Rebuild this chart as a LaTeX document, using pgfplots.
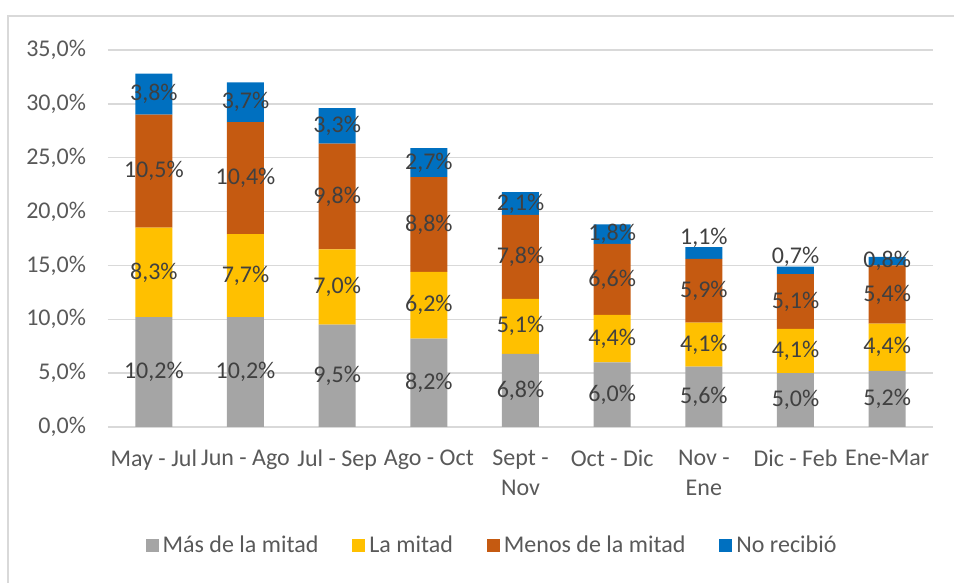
\documentclass[border=0pt]{standalone}
\usepackage{fontspec}
\setmainfont{Carlito}
\usepackage{pgfplots}
\usepackage{pgfplotstable}
\pgfplotsset{compat=1.18}
\definecolor{cgray}{HTML}{A5A5A5}
\definecolor{cyellow}{HTML}{FFC000}
\definecolor{corange}{HTML}{C55A11}
\definecolor{cblue}{HTML}{0070C0}
\definecolor{gridc}{HTML}{D9D9D9}
\definecolor{tickc}{HTML}{595959}
\definecolor{lblc}{HTML}{404040}

\pgfplotstableread{
x y dy
0 10.2 0
1 10.2 0
2 9.5 0
3 8.2 0
4 6.8 0
5 6.0 0
6 5.6 0
7 5.0 0
8 5.2 0
}\graytab
\pgfplotstableread{
x y dy
0 8.3 0
1 7.7 0
2 7.0 0
3 6.2 0
4 5.1 0
5 4.4 0
6 4.1 0
7 4.1 0
8 4.4 0
}\yellowtab
\pgfplotstableread{
x y dy
0 10.5 0
1 10.4 0
2 9.8 0
3 8.8 0
4 7.8 0
5 6.6 0
6 5.9 0
7 5.1 0
8 5.4 0
}\orangetab
\pgfplotstableread{
x y dy
0 3.8 0
1 3.7 0
2 3.3 0
3 2.7 0
4 2.1 0
5 1.8 0
6 1.1 7.5
7 0.7 6.5
8 0.8 0
}\bluetab

\newcommand{\cfont}{\fontsize{12pt}{15pt}\selectfont}

\begin{document}
\begin{tikzpicture}
\useasboundingbox (0,0) rectangle (477pt,291.5pt);
\draw[gridc, line width=0.6pt] (4pt,0) -- (4pt,283.5pt) -- (477pt,283.5pt);
\begin{axis}[
  at={(54pt,78pt)}, anchor=south west,
  scale only axis, width=412.5pt, height=188.5pt,
  ybar stacked, bar width=18.5pt,
  xmin=-0.5, xmax=8.5, ymin=0, ymax=35,
  ytick={0,5,...,35},
  xtick={0,...,8},
  xticklabels={May - Jul, Jun - Ago, Jul - Sep, Ago - Oct, {Sept -\\Nov}, Oct - Dic, {Nov -\\Ene}, Dic - Feb, Ene-Mar},
  axis line style={draw=none},
  major tick length=0pt,
  ymajorgrids, grid style={gridc, line width=0.75pt},
  /pgf/number format/assume math mode=true,
  yticklabel={\pgfmathprintnumber[fixed,fixed zerofill,precision=1,use comma]{\tick}\%},
  yticklabel style={font=\cfont, text=tickc, xshift=-7.5pt},
  xticklabel style={font=\cfont, text=tickc, align=center, anchor=north, yshift=-8pt},
  legend style={at={(0.4667,-0.3156)}, anchor=center, draw=none, fill=none,
    legend columns=4, font=\cfont, text=tickc,
    /tikz/every even column/.append style={column sep=15pt}},
  legend image code/.code={\fill[#1] (0pt,-3.25pt) rectangle (6.5pt,3.25pt);},
  point meta=\thisrow{y},
  nodes near coords={\pgfmathprintnumber[fixed,fixed zerofill,precision=1,use comma,assume math mode=true]{\pgfplotspointmeta}\%},
  visualization depends on={\thisrow{dy} \as \dy},
  every node near coord/.append style={font=\cfont, text=lblc, anchor=center,
    yshift={\dy*1pt}},
]
\addplot[fill=cgray, draw=none] table[x=x,y=y]{\graytab};
\addlegendentry{Más de la mitad}
\addplot[fill=cyellow, draw=none] table[x=x,y=y]{\yellowtab};
\addlegendentry{La mitad}
\addplot[fill=corange, draw=none] table[x=x,y=y]{\orangetab};
\addlegendentry{Menos de la mitad}
\addplot[fill=cblue, draw=none] table[x=x,y=y]{\bluetab};
\addlegendentry{No recibió}
\end{axis}
\end{tikzpicture}
\end{document}
